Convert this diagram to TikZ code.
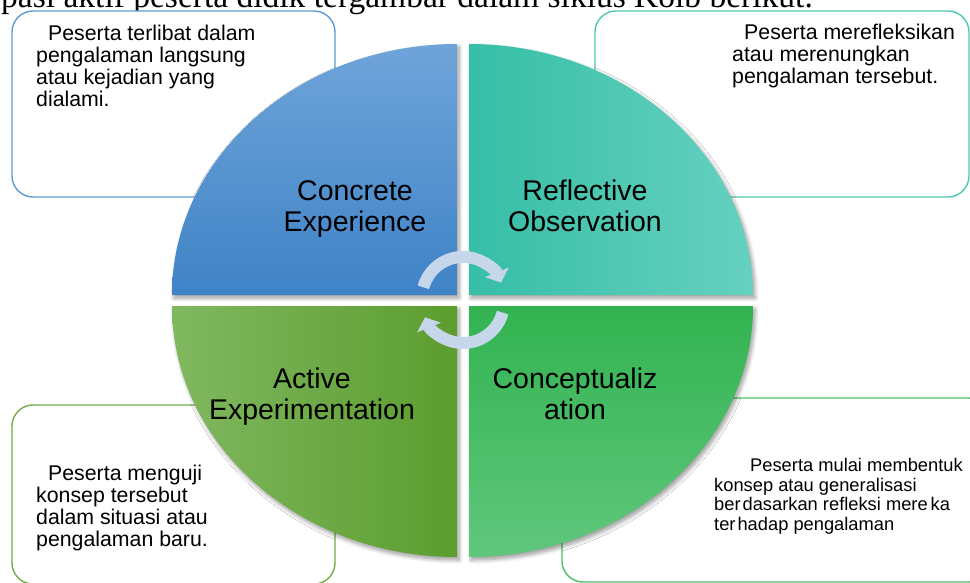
\documentclass[tikz,border=0pt]{standalone}
\usepackage{fontspec}
\setmainfont{Liberation Sans}
\newfontfamily\serifface{Liberation Serif}
\usetikzlibrary{arrows.meta,shadows.blur}
\definecolor{boxblue}{HTML}{5B9BD5}
\definecolor{boxteal}{HTML}{4CC9B0}
\definecolor{boxgreenA}{HTML}{70AD47}
\definecolor{boxgreenB}{HTML}{4CBF68}
\definecolor{tlTop}{HTML}{6FA4D9}
\definecolor{tlBot}{HTML}{3F83C7}
\definecolor{trLeft}{HTML}{36BEA6}
\definecolor{trRight}{HTML}{66D1C0}
\definecolor{blLeft}{HTML}{80B860}
\definecolor{blRight}{HTML}{5C9D2E}
\definecolor{brTop}{HTML}{32B350}
\definecolor{brBot}{HTML}{60C77D}
\definecolor{arrowc}{HTML}{C7D7EB}
\begin{document}
\begin{tikzpicture}[x=1pt,y=-1pt,
  infobox/.style={line width=1.4pt, rounded corners=21pt, fill=white},
  desc/.style={anchor=base west, align=left, inner sep=0pt, font=\fontsize{21.3}{22}\selectfont},
  descsmall/.style={anchor=base west, align=left, inner sep=0pt, font=\fontsize{18.3}{19.4}\selectfont},
  qlabel/.style={anchor=base, align=center, inner sep=0pt, font=\fontsize{28.5}{30.5}\selectfont},
  quad/.style={blur shadow={shadow xshift=2pt, shadow yshift=-3pt, shadow blur radius=4pt, shadow blur steps=8, shadow opacity=40}},
  cyc/.style={line width=12pt, draw=arrowc, -{Triangle[length=11pt,width=25pt]}}
]
\useasboundingbox (0,0) rectangle (970,583);

% intro line (clipped at top)
\node[anchor=base east, inner sep=0pt, font=\serifface\fontsize{33.5}{36}\selectfont] (intro) at (813,7.5)
  {pasi aktif peserta didik tergambar dalam siklus Kolb berikut.};

% text boxes (behind the circle)
\draw[infobox, draw=boxblue] (12,11) rectangle (335,197);
\draw[infobox, draw=boxteal] (595,11) rectangle (969,197);
\draw[infobox, draw=boxgreenA] (12,405) rectangle (335,584);
\draw[infobox, draw=boxgreenB] (562,398) rectangle (990,582);

% quadrants
\shade[quad, top color=tlTop, bottom color=tlBot]
  (457,295) -- (172,295) .. controls (172,156.4) and (299.6,44) .. (457,44) -- cycle;
\shade[quad, left color=trLeft, right color=trRight]
  (469,295) -- (469,44) .. controls (625.9,44) and (753,156.4) .. (753,295) -- cycle;
\shade[quad, left color=blLeft, right color=blRight]
  (457,306) -- (172,306) .. controls (172,444.6) and (299.6,557) .. (457,557) -- cycle;
\shade[quad, top color=brTop, bottom color=brBot]
  (469,306) -- (753,306) .. controls (753,444.6) and (625.9,557) .. (469,557) -- cycle;

% cycle arrows
\draw[cyc] (423.4,287.3) arc[start angle=165, end angle=22, radius=41pt];
\draw[cyc] (502.6,312.6) arc[start angle=-15, end angle=-158, radius=41pt];

% quadrant labels (anchor = baseline of last line)
\node[qlabel] (ce) at (355,231) {Concrete\\Experience};
\node[qlabel] (ro) at (585,231) {Reflective\\Observation};
\node[qlabel] (ae) at (312,419) {Active\\Experimentation};
\node[qlabel] (ac) at (575,419) {Conceptualiz\\ation};

% descriptions (anchor = baseline of last line)
\node[desc] (d1) at (36,106.7) {\hspace*{12pt}Peserta terlibat dalam\\pengalaman langsung\\atau kejadian yang\\dialami.};
\node[desc] (d2) at (732,84) {\hspace*{12pt}Peserta merefleksikan\\atau merenungkan\\pengalaman tersebut.};
\node[desc] (d3) at (36,546.7) {\hspace*{12pt}Peserta menguji\\konsep tersebut\\dalam situasi atau\\pengalaman baru.};
\node[descsmall] (d4) at (714,530) {\hspace*{36pt}Peserta mulai membentuk\\konsep atau generalisasi\\ber\kern2pt dasarkan refleksi mere\kern3pt ka\\ter\kern2pt hadap pengalaman};
\end{tikzpicture}
\end{document}
